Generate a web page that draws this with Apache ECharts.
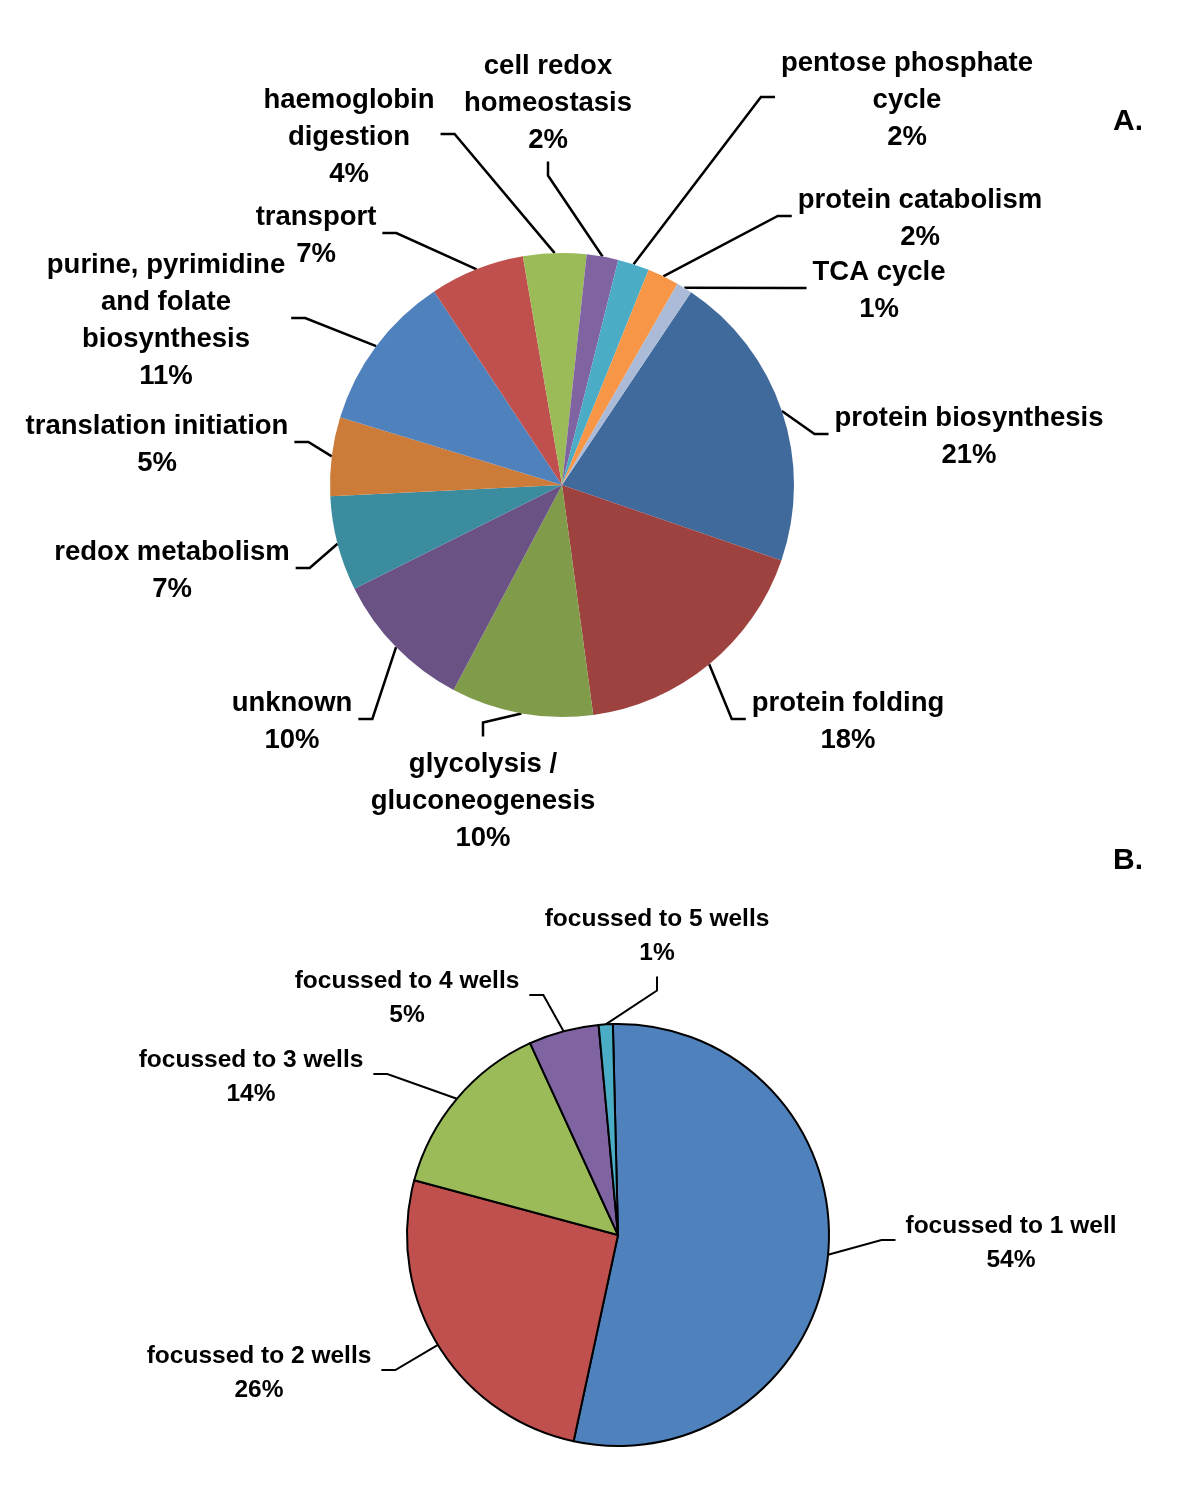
<!DOCTYPE html>
<html>

	<head>
		<meta charset="utf-8">
		<script type="text/javascript" src="https://cdn.jsdelivr.net/npm/echarts@6.0.0/dist/echarts.min.js"></script>
		<style>
			body { margin: 0; background: #fff; }
		</style>
	</head>

	<body>
		<div id="main" style="width:1200px;height:1486px"></div>

		<script type="text/javascript">
			// A. protein counts per biological process (clockwise)
			var processNames = ['protein biosynthesis', 'protein folding', 'glycolysis /\ngluconeogenesis', 'unknown',
				'redox metabolism', 'translation initiation', 'purine, pyrimidine\nand folate\nbiosynthesis', 'transport',
				'haemoglobin\ndigestion', 'cell redox\nhomeostasis', 'pentose phosphate\ncycle', 'protein catabolism', 'TCA cycle'];
			var processCounts = [19, 16, 9, 9, 6, 5, 10, 6, 4, 2, 2, 2, 1];

			// B. spots focussed to n wells
			var wellNames = ['focussed to 1 well', 'focussed to 2 wells', 'focussed to 3 wells', 'focussed to 4 wells', 'focussed to 5 wells'];
			var wellCounts = [50, 24, 13, 5, 1];

			var processColors = ['#416A9C', '#9E423F', '#809B4A', '#6A5285', '#3C8CA0', '#CD7B39', '#4F81BD',
				'#C0504D', '#9BBB59', '#8064A2', '#4BACC6', '#F79646', '#AABAD7'];
			var wellColors = ['#4F81BD', '#C0504D', '#9BBB59', '#8064A2', '#4BACC6'];

			// label spots: text centre x, y and the side the leader line joins
			var spotsA = [[969, 434, 'l'], [848, 719, 'l'], [483, 798, 't'], [292, 719, 'r'], [172, 568, 'r'],
				[157, 442, 'r'], [166, 318, 'r'], [316, 233, 'r'], [349, 134, 'r'], [548, 100, 'b'],
				[907, 97, 'l'], [920, 216, 'l'], [879, 288, 'l']];
			var spotsB = [[1011, 1240, 'l'], [259, 1370, 'r'], [251, 1074, 'r'], [407, 995, 'r'], [657, 933, 'b']];

			// nudge: text sits a little low against the leader line
			function placeLabels(spots, gap, elbow, nudge) {
				return function(params) {
					var s = spots[params.dataIndex];
					var w = params.labelRect.width, h = params.labelRect.height;
					var x = s[0], y = s[1];
					var start = params.labelLinePoints[0];
					var end, bend;
					if(s[2] === 'l') {
						end = [x - w / 2 - gap, y];
						bend = [end[0] - elbow, y];
					} else if(s[2] === 'r') {
						end = [x + w / 2 + gap, y];
						bend = [end[0] + elbow, y];
					} else if(s[2] === 't') {
						end = [x, y - h / 2 - gap];
						bend = [x, end[1] - elbow];
					} else {
						end = [x, y + h / 2 + gap];
						bend = [x, end[1] + elbow];
					}
					return {
						x: x,
						y: y + nudge,
						align: 'center',
						verticalAlign: 'middle',
						labelLinePoints: [[start[0], start[1]], bend, end]
					};
				};
			}

			function toData(names, values, colors) {
				return names.map(function(n, i) {
					return { name: n, value: values[i], itemStyle: { color: colors[i] } };
				});
			}

			var font = 'Liberation Sans, Arial, Helvetica, sans-serif';
			var myChart = echarts.init(document.getElementById('main'));

			var option = {
				backgroundColor: '#fff',
				animation: false,
				title: [{
					text: 'A.',
					left: 1113,
					top: 107,
					padding: 0,
					textStyle: { fontFamily: font, fontSize: 30, fontWeight: 'bold', color: '#000', lineHeight: 30 }
				}, {
					text: 'B.',
					left: 1113,
					top: 846,
					padding: 0,
					textStyle: { fontFamily: font, fontSize: 30, fontWeight: 'bold', color: '#000', lineHeight: 30 }
				}],
				series: [{
					name: 'process',
					type: 'pie',
					center: [562, 485],
					radius: 232,
					startAngle: 56.2,
					clockwise: true,
					percentPrecision: 0,
					avoidLabelOverlap: false,
					emphasis: { disabled: true },
					data: toData(processNames, processCounts, processColors),
					label: {
						show: true,
						position: 'outside',
						formatter: '{b}\n{d}%',
						fontFamily: font,
						fontSize: 27.5,
						fontWeight: 'bold',
						lineHeight: 37,
						color: '#000',
						align: 'center'
					},
					labelLine: {
						show: true,
						length: 20,
						length2: 15,
						lineStyle: { color: '#000', width: 2.5 }
					},
					labelLayout: placeLabels(spotsA, 6, 14, 3)
				}, {
					name: 'wells',
					type: 'pie',
					center: [618, 1235],
					radius: 211,
					startAngle: 91.4,
					clockwise: true,
					percentPrecision: 0,
					avoidLabelOverlap: false,
					emphasis: { disabled: true },
					data: toData(wellNames, wellCounts, wellColors),
					itemStyle: { borderColor: '#000', borderWidth: 2 },
					label: {
						show: true,
						position: 'outside',
						formatter: '{b}\n{d}%',
						fontFamily: font,
						fontSize: 24.5,
						fontWeight: 'bold',
						lineHeight: 33.5,
						color: '#000',
						align: 'center'
					},
					labelLine: {
						show: true,
						length: 20,
						length2: 15,
						lineStyle: { color: '#000', width: 2 }
					},
					labelLayout: placeLabels(spotsB, 10, 14, 3)
				}]
			};
			myChart.setOption(option);
		</script>

	</body>

</html>
